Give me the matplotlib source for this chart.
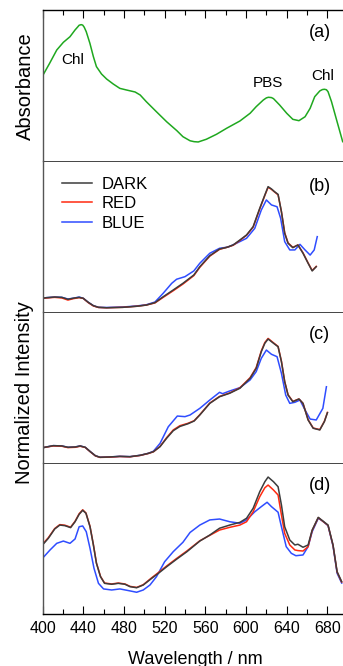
import matplotlib
matplotlib.use("Agg")
import matplotlib.pyplot as plt
import numpy as np

plt.rcParams['font.family'] = ['Liberation Sans', 'DejaVu Sans']

# ---------------- data ----------------
# (a) absorbance
abs_wl = [400, 407, 414, 420.5, 427, 432, 434.5, 436, 438, 439.5, 441, 443, 446.6, 450, 453, 458,
          463, 469.5, 476, 482.7, 491, 496, 502, 512, 522, 532, 538, 545, 549, 553, 561, 571, 581,
          594, 604, 610, 617, 620, 622, 625, 627, 633, 640, 646, 652, 658, 663, 667.5, 672.5, 675,
          677, 679, 680.6, 684, 689, 695]
abs_val = [0.563, 0.647, 0.735, 0.786, 0.823, 0.868, 0.887, 0.899, 0.903, 0.900, 0.886, 0.856,
           0.779, 0.691, 0.625, 0.576, 0.543, 0.510, 0.481, 0.470, 0.457, 0.437, 0.393, 0.326,
           0.260, 0.201, 0.161, 0.134, 0.128, 0.126, 0.144, 0.177, 0.217, 0.265, 0.316, 0.360,
           0.404, 0.418, 0.422, 0.420, 0.413, 0.371, 0.316, 0.276, 0.267, 0.293, 0.349, 0.426,
           0.464, 0.473, 0.475, 0.472, 0.459, 0.393, 0.272, 0.128]

# (b)
b_dark_wl = [400, 404, 412, 419, 425, 430, 436, 440, 445, 450, 455, 463, 479, 492.5, 502, 510.5,
             518.6, 528.5, 538, 548.7, 554.6, 564.4, 574, 581, 587.4, 594, 600.5, 607, 613.5,
             618.5, 621.7, 625, 628, 631.5, 634.8, 638, 641.3, 646, 651, 656, 661, 665, 669]
b_dark = [0.091, 0.095, 0.099, 0.097, 0.084, 0.091, 0.097, 0.091, 0.064, 0.042, 0.031, 0.028,
          0.031, 0.038, 0.046, 0.062, 0.101, 0.146, 0.190, 0.245, 0.300, 0.373, 0.417, 0.428,
          0.444, 0.477, 0.510, 0.565, 0.687, 0.775, 0.830, 0.815, 0.797, 0.779, 0.664, 0.521,
          0.455, 0.426, 0.444, 0.389, 0.323, 0.272, 0.300]
b_red_wl = b_dark_wl
b_red = [0.091, 0.093, 0.097, 0.093, 0.079, 0.088, 0.095, 0.090, 0.062, 0.040, 0.030, 0.028,
         0.031, 0.038, 0.046, 0.060, 0.097, 0.141, 0.185, 0.241, 0.296, 0.370, 0.415, 0.428,
         0.442, 0.474, 0.508, 0.562, 0.683, 0.772, 0.826, 0.812, 0.795, 0.776, 0.664, 0.525,
         0.458, 0.428, 0.444, 0.392, 0.325, 0.275, 0.302]
b_blue_wl = [400, 404, 412, 419, 425, 430, 436, 440, 445, 450, 455, 463, 479, 492.5, 502, 510.5,
             518.6, 527, 531.8, 540, 548.7, 554.6, 564.4, 574, 582.4, 590.6, 600.5, 608.6, 615,
             620, 625, 630.5, 634, 638, 643, 648, 653, 658, 663, 667, 670]
b_blue = [0.091, 0.095, 0.099, 0.097, 0.086, 0.091, 0.099, 0.091, 0.064, 0.042, 0.031, 0.030,
          0.033, 0.040, 0.048, 0.066, 0.124, 0.190, 0.217, 0.234, 0.272, 0.323, 0.389, 0.422,
          0.430, 0.455, 0.488, 0.554, 0.675, 0.742, 0.709, 0.697, 0.621, 0.466, 0.411, 0.411,
          0.448, 0.411, 0.377, 0.411, 0.499]

# (c)
c_dark_wl = [400, 410.6, 419, 425, 432, 437, 442, 447, 452, 456.5, 466, 476, 486, 496, 504, 509,
             515.5, 522, 528.5, 535, 543, 549, 554.6, 564.4, 574, 584, 594, 604, 610, 615, 618.5,
             621.7, 627, 631.5, 634.8, 638, 641.3, 646, 652, 656, 661, 666, 672.5, 677, 680]
c_dark = [0.101, 0.115, 0.113, 0.104, 0.106, 0.113, 0.104, 0.075, 0.048, 0.038, 0.040, 0.044,
          0.042, 0.051, 0.064, 0.075, 0.108, 0.164, 0.214, 0.242, 0.260, 0.278, 0.318, 0.395,
          0.439, 0.462, 0.495, 0.561, 0.627, 0.737, 0.793, 0.821, 0.793, 0.770, 0.671, 0.538,
          0.450, 0.406, 0.424, 0.395, 0.285, 0.230, 0.219, 0.274, 0.333]
c_red_wl = c_dark_wl
c_red = [0.101, 0.113, 0.111, 0.102, 0.104, 0.111, 0.103, 0.074, 0.047, 0.037, 0.039, 0.043,
         0.041, 0.050, 0.063, 0.074, 0.110, 0.168, 0.219, 0.247, 0.263, 0.280, 0.320, 0.397,
         0.441, 0.464, 0.498, 0.565, 0.632, 0.742, 0.798, 0.825, 0.796, 0.772, 0.674, 0.540,
         0.452, 0.408, 0.424, 0.395, 0.287, 0.232, 0.221, 0.276, 0.335]
c_blue_wl = [400, 410.6, 419, 425, 432, 437, 442, 447, 452, 456.5, 466, 476, 486, 496, 504, 509,
             515.5, 523.6, 532.5, 540, 545, 554.6, 564.4, 574, 577, 584, 594, 604, 610, 615, 620,
             625, 630.5, 634.8, 639, 643, 648, 653, 658, 663, 669, 675.5, 679]
c_blue = [0.101, 0.115, 0.113, 0.104, 0.106, 0.113, 0.104, 0.075, 0.048, 0.038, 0.040, 0.044,
          0.042, 0.051, 0.064, 0.078, 0.130, 0.240, 0.311, 0.307, 0.318, 0.362, 0.417, 0.468,
          0.459, 0.477, 0.499, 0.550, 0.605, 0.693, 0.748, 0.720, 0.704, 0.594, 0.450, 0.395,
          0.402, 0.417, 0.351, 0.291, 0.285, 0.362, 0.505]

# (d)
d_dark_wl = [400, 405.7, 412, 417, 422, 427.6, 432, 436, 439.5, 442.7, 446.7, 450, 453, 457, 461,
             468, 474.5, 481, 486, 492.5, 499, 507.3, 514, 522, 532, 542, 549, 554.6, 564.4, 574,
             584, 594, 600.5, 607, 613.5, 618.5, 621.7, 627, 631.5, 634.8, 638, 643, 648, 651,
             656, 661, 665, 671, 675.5, 680.6, 685.5, 689.5, 694]
d_dark = [0.457, 0.501, 0.563, 0.589, 0.585, 0.572, 0.611, 0.660, 0.687, 0.667, 0.578, 0.457,
          0.336, 0.247, 0.203, 0.197, 0.203, 0.197, 0.181, 0.174, 0.192, 0.236, 0.270, 0.313,
          0.364, 0.413, 0.452, 0.483, 0.523, 0.568, 0.589, 0.607, 0.634, 0.700, 0.810, 0.876,
          0.907, 0.876, 0.843, 0.722, 0.578, 0.490, 0.457, 0.462, 0.442, 0.457, 0.556, 0.640,
          0.616, 0.589, 0.457, 0.280, 0.214]
d_red_wl = d_dark_wl
d_red = [0.462, 0.505, 0.566, 0.592, 0.588, 0.575, 0.614, 0.664, 0.690, 0.669, 0.580, 0.460,
         0.338, 0.249, 0.205, 0.199, 0.205, 0.199, 0.183, 0.176, 0.194, 0.240, 0.275, 0.318,
         0.369, 0.418, 0.455, 0.485, 0.521, 0.556, 0.574, 0.589, 0.611, 0.677, 0.777, 0.836,
         0.854, 0.821, 0.788, 0.656, 0.534, 0.457, 0.424, 0.420, 0.417, 0.446, 0.553, 0.638,
         0.614, 0.587, 0.455, 0.278, 0.212]
d_blue_wl = [400, 407.4, 414, 420.5, 427, 432, 436, 439.5, 443, 446.7, 450.6, 455, 460, 468, 476,
             483, 492.5, 499, 505.6, 512, 520, 528.5, 538, 545, 554.6, 564.4, 574, 584, 594,
             600.5, 608.6, 615, 620.7, 625, 631.5, 634.8, 639.5, 644.5, 649, 656, 661, 665, 671,
             675.5, 680.6, 685.5, 689.5, 694]
d_blue = [0.369, 0.424, 0.468, 0.483, 0.468, 0.497, 0.578, 0.583, 0.545, 0.435, 0.303, 0.203,
          0.166, 0.159, 0.166, 0.157, 0.144, 0.159, 0.192, 0.247, 0.346, 0.413, 0.475, 0.540,
          0.589, 0.623, 0.629, 0.611, 0.601, 0.623, 0.677, 0.711, 0.740, 0.711, 0.674, 0.578,
          0.446, 0.402, 0.386, 0.391, 0.446, 0.545, 0.634, 0.614, 0.585, 0.450, 0.270, 0.205]

series_labels = ["DARK", "RED", "BLUE"]
xticks_major = [400, 440, 480, 520, 560, 600, 640, 680]

# ---------------- style ----------------
C_DARK = "#3c3c3c"
C_RED = "#ff2a10"
C_BLUE = "#2f4dff"
C_GREEN = "#1fa81f"

W, H = 343, 666
fig = plt.figure(figsize=(W / 100, H / 100), dpi=100)

left_px, right_px = 42.5, 343
bounds_px = [10, 161, 312, 463, 614]
axes = []
for i in range(4):
    top, bot = bounds_px[i], bounds_px[i + 1]
    ax = fig.add_axes([left_px / W, 1 - bot / H, (right_px - left_px) / W, (bot - top) / H])
    ax.set_xlim(400, 695.3)
    ax.set_ylim(0, 1)
    ax.set_yticks([])
    ax.spines['right'].set_visible(False)
    ax.spines['left'].set_color('#555555')
    ax.spines['left'].set_linewidth(1.0)
    ax.patch.set_alpha(0)
    axes.append(ax)

for i, ax in enumerate(axes):
    if i == 0:
        ax.spines['top'].set_linewidth(1.0)
    else:
        ax.spines['top'].set_visible(False)
    if i == 3:
        ax.spines['bottom'].set_linewidth(1.0)
    else:
        ax.spines['bottom'].set_linestyle((0, (1, 1)))
        ax.spines['bottom'].set_linewidth(0.7)
        ax.spines['bottom'].set_color('#444444')
    ax.set_xticks(xticks_major)
    ax.set_xticks(np.arange(420, 700, 40), minor=True)
    if i == 0:
        ax.tick_params(axis='x', which='both', direction='in', top=True, bottom=False,
                       labeltop=False, labelbottom=False)
        ax.tick_params(axis='x', which='major', length=6, width=0.8)
        ax.tick_params(axis='x', which='minor', length=3.5, width=0.8)
    elif i == 3:
        ax.tick_params(axis='x', which='both', direction='in', top=False, bottom=True,
                       labelbottom=True)
        ax.tick_params(axis='x', which='major', length=6, width=0.8, labelsize=11.5, pad=5)
        ax.tick_params(axis='x', which='minor', length=3.5, width=0.8)
    else:
        ax.tick_params(axis='x', which='both', top=False, bottom=False, labelbottom=False)

ax_a, ax_b, ax_c, ax_d = axes
lw = 1.1

ax_a.plot(abs_wl, abs_val, color=C_GREEN, lw=lw, solid_joinstyle='round')
ax_a.text(430, 0.669, "Chl", fontsize=11, ha='center', va='center')
ax_a.text(621.5, 0.517, "PBS", fontsize=11, ha='center', va='center')
ax_a.text(675.5, 0.563, "Chl", fontsize=11, ha='center', va='center')

for ax, (dw, dv), (rw, rv), (bw, bv) in [
    (ax_b, (b_dark_wl, b_dark), (b_red_wl, b_red), (b_blue_wl, b_blue)),
    (ax_c, (c_dark_wl, c_dark), (c_red_wl, c_red), (c_blue_wl, c_blue)),
    (ax_d, (d_dark_wl, d_dark), (d_red_wl, d_red), (d_blue_wl, d_blue)),
]:
    ax.plot(bw, bv, color=C_BLUE, lw=lw, label=series_labels[2], solid_joinstyle='round')
    ax.plot(rw, rv, color=C_RED, lw=lw, label=series_labels[1], solid_joinstyle='round')
    ax.plot(dw, dv, color=C_DARK, lw=lw, label=series_labels[0], solid_joinstyle='round')

handles, labels = ax_b.get_legend_handles_labels()
ax_b.legend(handles[::-1], labels[::-1], loc='upper left', bbox_to_anchor=(0.065, 0.895),
            frameon=False, fontsize=12, handlelength=1.8, handletextpad=0.6,
            labelspacing=0.26, borderpad=0, borderaxespad=0)

for ax, lab, yv in [(ax_a, "(a)", 0.848), (ax_b, "(b)", 0.83), (ax_c, "(c)", 0.848), (ax_d, "(d)", 0.854)]:
    ax.text(672.5, yv, lab, fontsize=13, ha='center', va='center')

fig.text(25 / W, 1 - 86 / H, "Absorbance", rotation=90, fontsize=14.5, ha='center', va='center')
fig.text(25 / W, 0.41, "Normalized Intensity", rotation=90, fontsize=14.5, ha='center', va='center')
fig.text(195 / W, 1 - 659 / H, "Wavelength / nm", fontsize=13, ha='center', va='center')

fig.savefig("out.png", dpi=100)
